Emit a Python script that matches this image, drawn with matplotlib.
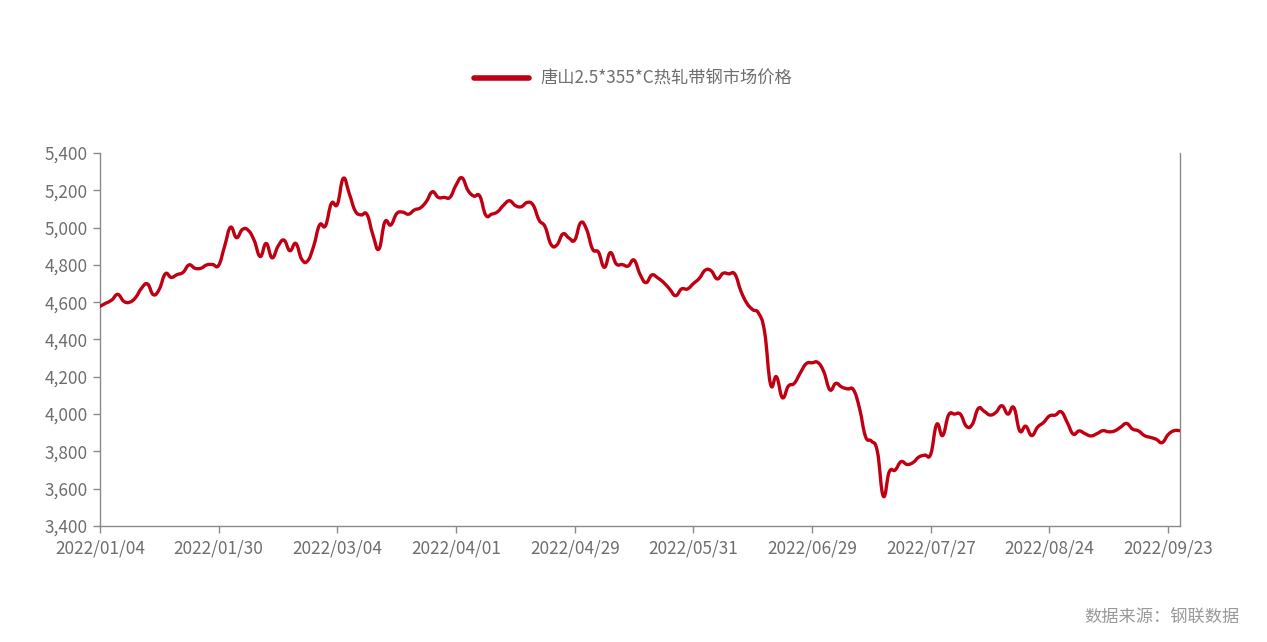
import matplotlib
matplotlib.use("Agg")
import matplotlib.pyplot as plt
from matplotlib.path import Path
from matplotlib.patches import PathPatch
from matplotlib.lines import Line2D
import numpy as np

plt.rcParams['font.family'] = ['Noto Sans CJK SC', 'DejaVu Sans']

series_name = "唐山2.5*355*C热轧带钢市场价格"
source_text = "数据来源：钢联数据"

tick_labels = ["2022/01/04", "2022/01/30", "2022/03/04", "2022/04/01", "2022/04/29",
               "2022/05/31", "2022/06/29", "2022/07/27", "2022/08/24", "2022/09/23"]
tick_step = 20  # trading days between labelled dates

prices = [
    4578, 4595, 4612, 4642, 4605, 4600, 4625, 4675, 4698, 4640,
    4670, 4752, 4733, 4748, 4760, 4800, 4782, 4782, 4800, 4802,
    4798, 4900, 5002, 4946, 4990, 4985, 4930, 4845, 4915, 4838,
    4900, 4933, 4876, 4915, 4830, 4822, 4900, 5014, 5010, 5130,
    5125, 5264, 5183, 5090, 5068, 5070, 4960, 4885, 5030, 5014,
    5075, 5083, 5072, 5095, 5106, 5140, 5192, 5162, 5162, 5163,
    5228, 5267, 5200, 5169, 5169, 5067, 5072, 5085, 5120, 5144,
    5118, 5112, 5135, 5120, 5040, 5005, 4910, 4907, 4966, 4945,
    4933, 5026, 4990, 4885, 4868, 4787, 4866, 4805, 4802, 4794,
    4826, 4750, 4705, 4746, 4730, 4705, 4670, 4635, 4671, 4671,
    4700, 4728, 4772, 4768, 4725, 4755, 4752, 4750, 4660, 4595,
    4560, 4540, 4440, 4160, 4200, 4088, 4150, 4165, 4220, 4270,
    4275, 4276, 4225, 4130, 4165, 4145, 4135, 4129, 4030, 3880,
    3855, 3800, 3560, 3690, 3700, 3745, 3730, 3740, 3770, 3780,
    3786, 3945, 3885, 3995, 4000, 3999, 3935, 3945, 4030, 4015,
    3995, 4010, 4045, 4000, 4035, 3910, 3935, 3885, 3930, 3955,
    3990, 3995, 4012, 3955, 3893, 3910, 3895, 3883, 3895, 3911,
    3905, 3910, 3930, 3950, 3920, 3910, 3885, 3875, 3865, 3847,
    3890, 3911, 3911,
]

y_min, y_max, y_step = 3400, 5400, 200
line_color = "#C00012"
text_color = "#6E6E6E"
axis_color = "#8A8A8A"

W, H = 1267, 642
fig = plt.figure(figsize=(W / 100, H / 100), dpi=100)
ax = fig.add_axes([100 / W, (H - 526) / H, 1080 / W, 373 / H])

x = np.arange(len(prices), dtype=float)
y = np.array(prices, dtype=float)

# smooth curve (cubic bezier through every point)
t = 0.22
verts = [(x[0], y[0])]
codes = [Path.MOVETO]
n = len(x)
for i in range(n - 1):
    p0 = np.array([x[max(i - 1, 0)], y[max(i - 1, 0)]])
    p1 = np.array([x[i], y[i]])
    p2 = np.array([x[i + 1], y[i + 1]])
    p3 = np.array([x[min(i + 2, n - 1)], y[min(i + 2, n - 1)]])
    c1 = p1 + (p2 - p0) * t
    c2 = p2 - (p3 - p1) * t
    verts += [tuple(c1), tuple(c2), tuple(p2)]
    codes += [Path.CURVE4, Path.CURVE4, Path.CURVE4]
patch = PathPatch(Path(verts, codes), facecolor='none', edgecolor=line_color,
                  lw=2.4, capstyle='round', joinstyle='round', zorder=3)
ax.add_patch(patch)

ax.set_xlim(0, n - 1)
ax.set_ylim(y_min, y_max)

yt = np.arange(y_min, y_max + 1, y_step)
ax.set_yticks(yt)
ax.set_yticklabels([f"{v:,}" for v in yt])
xt = np.arange(len(tick_labels)) * tick_step
ax.set_xticks(xt)
ax.set_xticklabels(tick_labels)

for s in ['top']:
    ax.spines[s].set_visible(False)
for s in ['left', 'bottom', 'right']:
    ax.spines[s].set_color(axis_color)
    ax.spines[s].set_linewidth(1.0)
ax.tick_params(axis='both', colors=axis_color, labelcolor=text_color,
               labelsize=12.4, length=5, width=1.0)
ax.tick_params(axis='x', pad=5)
ax.tick_params(axis='y', pad=4)

# legend
handle = Line2D([0], [0], color=line_color, lw=4, solid_capstyle='round')
fig.legend([handle], [series_name], loc='center', bbox_to_anchor=(633 / W, 1 - 79 / H),
           frameon=False, fontsize=12.4, handlelength=3.2, handletextpad=0.7,
           labelcolor=text_color)

fig.text(1240 / W, 1 - 618 / H, source_text, ha='right', va='center',
         fontsize=12.4, color="#999999")

fig.savefig("out.png", dpi=100, facecolor='white')
